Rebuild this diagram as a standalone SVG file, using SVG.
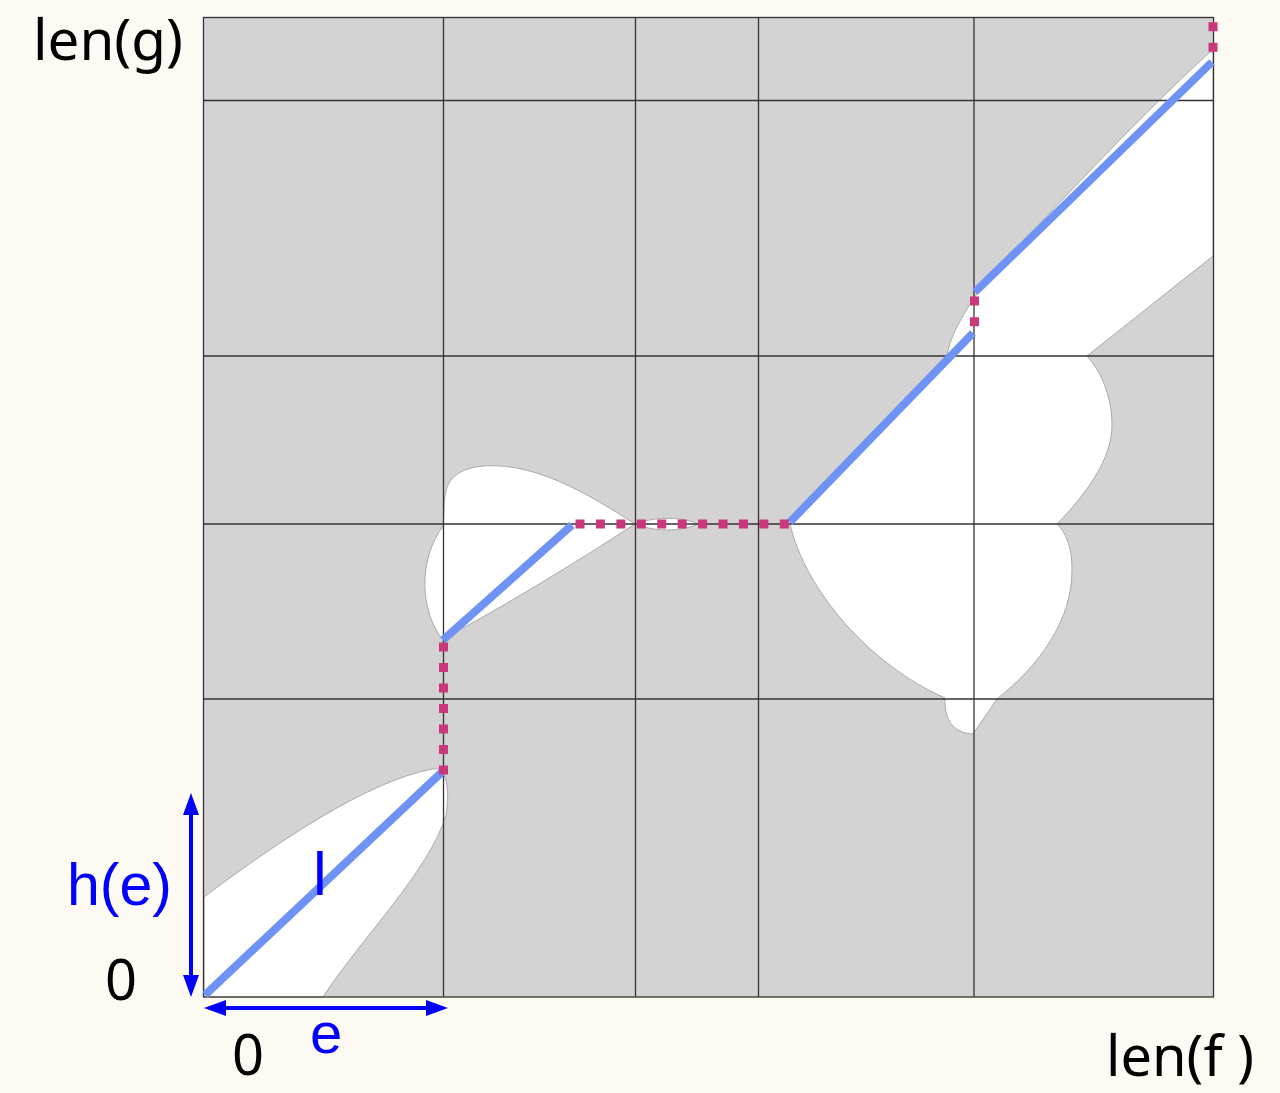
<svg xmlns="http://www.w3.org/2000/svg" width="1280" height="1093" viewBox="0 0 1280 1093">
<style>
.region{fill:#ffffff;stroke:#aaaaaa;stroke-width:1}
.grid{stroke:#333333;stroke-width:1.3;fill:none}
.blue{stroke:#6f93f5;stroke-width:8;fill:none}
.pink{stroke:#c8387a;stroke-width:9;fill:none}
.arrow{stroke:#0000ff;stroke-width:4;fill:none}
.lbl{font-family:"Noto Sans",sans-serif;font-size:56px;fill:#000000}
.blbl{font-family:"Liberation Sans",Arial,sans-serif;fill:#0000ff}
</style>
<defs>
<marker id="ah" markerUnits="userSpaceOnUse" markerWidth="22" markerHeight="16" refX="12" refY="8" orient="auto-start-reverse">
<path d="M0,0 L22,8 L0,16 Z" fill="#0000ff"/>
</marker>
</defs>
<rect x="0" y="0" width="1280" height="1093" fill="#fdfaf3"/>
<g id="plot">
<rect x="203.5" y="17.5" width="1010" height="979.5" fill="#d3d3d3"/>
<g id="free-space">
<path class="region" d="M204,897 C280,840 370,780 433,769 C447,766 450,790 446,815 C430,870 360,940 323,997 L204,997 Z"/>
<path class="region" d="M442,639 C420,610 418,560 443,526 C446,500 438,475 475,467 C530,458 590,495 635,524 C580,560 490,615 442,639 Z"/>
<path class="region" d="M635,524 C655,516 685,517 698,524 C680,532 655,532 635,524 Z"/>
<path class="region" d="M790,524 C805,590 870,665 945,698 C944,722 955,733 973,734 L997,699 C1040,665 1072,620 1072,570 C1072,545 1065,532 1057,524 C1085,495 1112,460 1112,425 C1112,395 1100,370 1087,356 L1213,256 L1213,52 L1210,52 C1130,125 1040,225 990,275 C965,310 950,335 947,356 C920,385 850,450 790,524 Z"/>
</g>
<g id="grid">
<rect class="grid" x="203.5" y="17.5" width="1010" height="979.5"/>
<path class="grid" d="M443.5,17.5 V997 M635.5,17.5 V997 M758.5,17.5 V997 M974,17.5 V997 M203.5,100.5 H1213.5 M203.5,356 H1213.5 M203.5,524 H1213.5 M203.5,699 H1213.5"/>
</g>
</g>
<g id="connectors">
<g id="path-blue">
<path class="blue" d="M205,995 L442,772"/>
<path class="blue" d="M443,640 L572,525"/>
<path class="blue" d="M790,522 L973,333"/>
<path class="blue" d="M975,292 L1212,62"/>
</g>
<g id="path-pink">
<path class="pink" d="M443.5,774.5 V642" stroke-dasharray="9 11.5"/>
<path class="pink" d="M575.5,524 H789" stroke-dasharray="9 11.43"/>
<path class="pink" d="M974.5,326.2 V296" stroke-dasharray="9 11.7"/>
<path class="pink" d="M1213,51.8 V22" stroke-dasharray="9 11.6"/>
</g>
<g id="axes-arrows">
<path class="arrow" d="M191,803 V987" marker-start="url(#ah)" marker-end="url(#ah)"/>
<path class="arrow" d="M214,1008 H438" marker-start="url(#ah)" marker-end="url(#ah)"/>
</g>
</g>
<g id="labels">
<text class="lbl" x="33" y="60" textLength="150" lengthAdjust="spacingAndGlyphs">len(g)</text>
<text class="lbl" x="1106" y="1076" textLength="148" lengthAdjust="spacingAndGlyphs">len(f )</text>
<text class="lbl" x="105" y="1000">0</text>
<text class="lbl" x="232" y="1075">0</text>
<text class="blbl" x="310" y="1053" font-size="58">e</text>
<text class="blbl" x="67" y="905" font-size="60" textLength="105" lengthAdjust="spacingAndGlyphs">h(e)</text>
<text class="blbl" x="313" y="895" font-size="62">l</text>
</g>
</svg>
